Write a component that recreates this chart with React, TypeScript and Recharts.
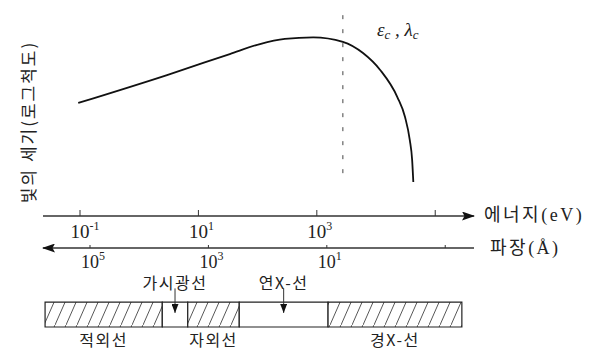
import React from 'react';
import { ComposedChart, Line, XAxis, YAxis, ReferenceLine, ReferenceArea } from 'recharts';

// x: log10(에너지 / eV), y: 빛의 세기 (로그척도, 임의 단위 0~100)
const energyLog = [-1.03, 0.47, 1.53, 2.04, 2.46, 2.94, 3.44, 3.78, 4.07, 4.36, 4.49, 4.57, 4.61, 4.63];
const intensity = [55.4, 69.1, 79.4, 84.3, 86.8, 87.6, 85.4, 79.9, 71.6, 58.3, 48.5, 37.3, 27.5, 16.7];

// 축 눈금 (지수), 빈 문자열은 라벨 없는 눈금
const energyTicks = [-1, 1, 3, 5];
const energyExp = ['-1', '1', '3', ''];
const waveTicks = [5, 3, 1, -1];
const waveExp = ['5', '3', '1', ''];

// 임계 에너지 (log10 eV)
const criticalLog = 3.44;
const criticalRange = [21, 99.5];

// 스펙트럼 영역 띠
const bandNames = ['적외선', '가시광선', '자외선', '연X-선', '경X-선'];
const bandEdges = [-1.59, 0.39, 0.82, 1.69, 3.19, 5.45];
const bandHatched = [true, false, true, false, true];
const bandLabelTop = [false, true, false, true, false];

const data = energyLog.map((e, i) => ({ e, v: intensity[i] }));

// 띠 위치 (y축 값 기준, 그림 영역 아래)
const BAR_TOP = -42.2;
const BAR_BOTTOM = -54.4;
const ARROW_TOP = -35.5;
const ARROW_BOTTOM = -47.5;

const KR = "'Noto Sans CJK KR', sans-serif";
const SERIF = "'Liberation Serif', serif";
const INK = '#222';

const PowerTick = (props: any) => {
  const { x, y, payload, ticks, exps, dyBase, size } = props;
  const exp = exps[ticks.indexOf(payload.value)];
  if (!exp) return null;
  return (
    <text x={x - size / 2} y={y + dyBase} fontFamily={SERIF} fontSize={size} fill={INK}>
      10
      <tspan dy={-8} fontSize={12}>{exp}</tspan>
    </text>
  );
};

const ArrowShape = (p: any) => (
  <line x1={p.x1} y1={p.y1} x2={p.x2} y2={p.y2} stroke="#333" strokeWidth={1} markerEnd="url(#smallArrow)" />
);

export default function App() {
  return (
    <div style={{ position: 'absolute', left: 0, top: 0, width: 597, height: 354, background: '#fff' }}>
      <ComposedChart width={597} height={354} data={data} margin={{ top: 12, right: 123, bottom: 66, left: 43 }}>
        <defs>
          <marker id="axisArrow" viewBox="0 0 13 9" refX="12" refY="4.5" markerWidth="13" markerHeight="9"
            markerUnits="userSpaceOnUse" orient="auto-start-reverse">
            <path d="M0,0 L13,4.5 L0,9 L2.5,4.5 z" fill="#111" />
          </marker>
          <marker id="smallArrow" viewBox="0 0 7 9" refX="3.5" refY="9" markerWidth="7" markerHeight="9"
            markerUnits="userSpaceOnUse" orient="0">
            <path d="M0,0 L7,0 L3.5,9 z" fill="#111" />
          </marker>
          <pattern id="hatch" patternUnits="userSpaceOnUse" width="11" height="25">
            <rect width="11" height="25" fill="#fff" />
            <path d="M0,25 L11,0" stroke="#444" strokeWidth="0.9" />
          </pattern>
        </defs>

        <XAxis xAxisId="e" dataKey="e" type="number" domain={[-1.625, 5.655]} allowDataOverflow
          ticks={energyTicks} interval={0} height={32} tickSize={-6} tickMargin={0}
          axisLine={{ stroke: '#333', strokeWidth: 1.4, markerEnd: 'url(#axisArrow)' }}
          tickLine={{ stroke: '#333', strokeWidth: 1 }}
          tick={<PowerTick ticks={energyTicks} exps={energyExp} dyBase={28} size={19} />} />
        <XAxis xAxisId="w" dataKey="w" type="number" domain={[-1.486, 5.794]} allowDataOverflow reversed
          ticks={waveTicks} interval={0} height={40} tickSize={-3} tickMargin={0}
          axisLine={{ stroke: '#333', strokeWidth: 1.4, markerStart: 'url(#axisArrow)' }}
          tickLine={{ stroke: '#333', strokeWidth: 1 }}
          tick={<PowerTick ticks={waveTicks} exps={waveExp} dyBase={23} size={18} />} />
        <YAxis type="number" domain={[0, 100]} allowDataOverflow width={0} tick={false} tickLine={false}
          axisLine={{ stroke: '#333', strokeWidth: 1.4, markerStart: 'url(#axisArrow)' }} />

        <ReferenceLine xAxisId="e" segment={[{ x: criticalLog, y: criticalRange[0] }, { x: criticalLog, y: criticalRange[1] }]}
          stroke="#444" strokeWidth={1} strokeDasharray="4 10" />

        <Line xAxisId="e" type="monotone" dataKey="v" stroke="#111" strokeWidth={1.8} dot={false}
          isAnimationActive={false} />

        {bandNames.map((name, i) => (
          <ReferenceArea key={name} xAxisId="e" x1={bandEdges[i]} x2={bandEdges[i + 1]} y1={BAR_BOTTOM} y2={BAR_TOP}
            ifOverflow="visible" fill={bandHatched[i] ? 'url(#hatch)' : '#fff'} fillOpacity={1}
            stroke="#222" strokeWidth={1.2}
            label={{
              value: name,
              position: bandLabelTop[i] ? 'top' : 'bottom',
              offset: bandLabelTop[i] ? 13 : 8,
              fontFamily: KR,
              fontSize: 16,
              letterSpacing: 1.5,
              fill: INK,
            }} />
        ))}
        {bandNames.map((name, i) =>
          bandLabelTop[i] ? (
            <ReferenceLine key={name + '-arrow'} xAxisId="e" ifOverflow="visible"
              segment={[
                { x: (bandEdges[i] + bandEdges[i + 1]) / 2, y: ARROW_TOP },
                { x: (bandEdges[i] + bandEdges[i + 1]) / 2, y: ARROW_BOTTOM },
              ]}
              shape={ArrowShape} />
          ) : null
        )}

        <text transform="translate(27,122) rotate(-90)" textAnchor="middle" dominantBaseline="central"
          fontFamily={KR} fontSize={17} letterSpacing={2} fill={INK}>
          빛의 세기(로그척도)
        </text>
        <text x={484} y={221} fontFamily={KR} fontSize={18} letterSpacing={2.5} fill={INK}>
          에너지<tspan fontFamily={SERIF}>(eV)</tspan>
        </text>
        <text x={490} y={254} fontFamily={KR} fontSize={18} letterSpacing={2.5} fill={INK}>
          파장<tspan fontFamily={SERIF}>(Å)</tspan>
        </text>
        <text x={377} y={36} fontFamily={SERIF} fontStyle="italic" fontSize={19} fill={INK}>
          ε<tspan fontSize={13} dy={3}>c</tspan>
          <tspan dy={-3}> , </tspan>λ<tspan fontSize={13} dy={3}>c</tspan>
        </text>
      </ComposedChart>
    </div>
  );
}
